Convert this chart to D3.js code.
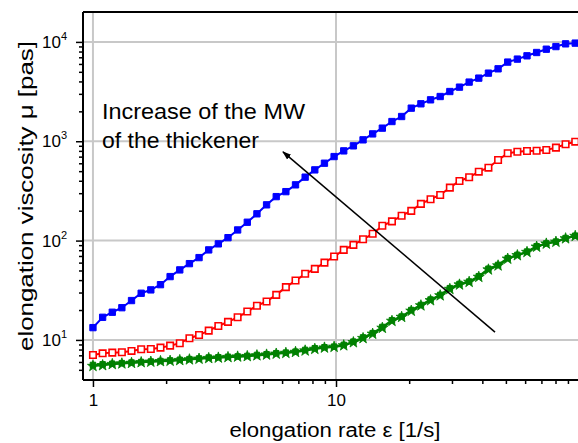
<!DOCTYPE html>
<html><head><meta charset="utf-8">
<script src="https://cdn.jsdelivr.net/npm/d3@7"></script>
<style>body{margin:0;background:#fff}svg{display:block}text{font-family:"Liberation Sans",Arial,sans-serif}</style>
</head><body>
<script>
const rate = [1.000,1.096,1.201,1.315,1.441,1.579,1.730,1.896,2.077,2.276,2.494,2.732,2.994,3.280,3.594,3.938,4.315,4.728,5.180,5.676,6.219,6.814,7.466,8.180,8.963,9.821,10.76,11.79,12.92,14.15,15.51,16.99,18.62,20.40,22.35,24.49,26.83,29.40,32.21,35.30,38.67,42.37,46.43,50.87,55.74,61.07,66.91,73.32,80.33,88.02,96.44];
const muHigh = [13.3,16.9,19.0,21.1,24.9,29.5,31.9,36.0,43.4,50.7,58.6,67.4,80.6,92.7,107,128,153,186,229,277,311,364,435,515,601,701,800,899,1033,1186,1355,1579,1774,2153,2382,2612,2820,3166,3505,3938,4319,4849,5359,6262,6711,7244,7823,8443,8973,9560,9720];
const muMid = [7.06,7.33,7.45,7.51,7.75,8.06,8.11,8.36,8.76,9.26,10.4,11.2,12.4,13.8,15.2,16.9,19.3,22.1,24.4,28.4,34.0,39.6,46.3,51.9,60.0,69.1,80.6,90.5,103,117,141,156,178,199,234,261,288,341,398,434,494,542,647,756,785,797,803,816,862,932,990];
const muLowSq = [5.60,5.68,5.76,5.84,5.92,5.99,6.06,6.13,6.22,6.31,6.41,6.51,6.65,6.69,6.77,6.82,6.90,7.06,7.18,7.35,7.45,7.62,7.93,8.25,8.44,8.56,8.91,9.61,10.6,11.7,13.5,15.8,17.2,20.0,22.5,25.5,28.4,33.2,36.6,38.7,43.8,52.1,56.9,66.5,71.8,77.5,87.8,93.7,97.7,106,112];
const muLowStar = [5.45,5.55,5.70,5.78,5.85,5.95,6.02,6.10,6.15,6.25,6.35,6.45,6.55,6.62,6.70,6.78,6.85,6.98,7.10,7.25,7.38,7.55,7.80,8.10,8.35,8.50,8.80,9.45,10.4,11.5,13.2,15.5,17.0,19.6,22.2,25.0,28.0,32.5,36.0,38.3,43.0,51.0,56.0,65.5,71.0,76.5,86.5,93.0,97.0,105,111];
const xMajor = [1, 10];
const xMinor = [2,3,4,5,6,7,8,9,20,30,40,50,60,70,80,90];
const yMajor = [10, 100, 1000, 10000];
const yExp = ["1","2","3","4"];
const yMinor = [5,6,7,8,9,20,30,40,50,60,70,80,90,200,300,400,500,600,700,800,900,2000,3000,4000,5000,6000,7000,8000,9000];
const annoLines = ["Increase of the MW", "of the thickener"];
const annoWidths = [203, 157];
const arrowFrom = [45.1, 12.0], arrowTo = [6.05, 782];

const W = 578, H = 443;
const L = 83, R = 578, T = 12, B = 380;
const svg = d3.select("body").append("svg").attr("width", W).attr("height", H);
const x = d3.scaleLog().domain([0.91, 99]).range([L, R]);
const y = d3.scaleLog().domain([3.95, 20000]).range([B, T]);

svg.append("defs").append("clipPath").attr("id","clip").append("rect")
  .attr("x", L).attr("y", T).attr("width", R - L).attr("height", B - T);

// gridlines
const grid = svg.append("g").attr("stroke", "#c8c8c8").attr("stroke-width", 2);
grid.selectAll("line.gx").data(xMajor).join("line")
  .attr("x1", d => x(d)).attr("x2", d => x(d)).attr("y1", T).attr("y2", B);
grid.selectAll("line.gy").data(yMajor).join("line")
  .attr("y1", d => y(d)).attr("y2", d => y(d)).attr("x1", L).attr("x2", R);

// axes
const xAxMaj = d3.axisBottom(x).tickValues(xMajor).tickSize(7).tickFormat(d3.format("d"));
const gx = svg.append("g").attr("transform", `translate(0,${B})`).call(xAxMaj);
gx.select(".domain").remove();
gx.selectAll("line").attr("stroke", "#000").attr("stroke-width", 1.5);
gx.selectAll("text").attr("font-size", 17).attr("fill", "#000").attr("dy", "0.95em");
const gxm = svg.append("g").attr("transform", `translate(0,${B})`)
  .call(d3.axisBottom(x).tickValues(xMinor).tickSize(4).tickFormat(""));
gxm.select(".domain").remove();
gxm.selectAll("line").attr("stroke", "#000").attr("stroke-width", 1.5);

const gy = svg.append("g").attr("transform", `translate(${L},0)`)
  .call(d3.axisLeft(y).tickValues(yMajor).tickSize(7).tickFormat(""));
gy.select(".domain").remove();
gy.selectAll("line").attr("stroke", "#000").attr("stroke-width", 1.5);
const gym = svg.append("g").attr("transform", `translate(${L},0)`)
  .call(d3.axisLeft(y).tickValues(yMinor).tickSize(4).tickFormat(""));
gym.select(".domain").remove();
gym.selectAll("line").attr("stroke", "#000").attr("stroke-width", 1.5);

const yl = svg.append("g").selectAll("text").data(yMajor).join("text")
  .attr("x", 67).attr("y", d => y(d) + 6).attr("text-anchor", "end").attr("font-size", 17);
yl.append("tspan").text("10");
yl.append("tspan").attr("font-size", 11).attr("dy", -8).text((d, i) => yExp[i]);

// frame
svg.append("line").attr("x1", L).attr("x2", L).attr("y1", T).attr("y2", B).attr("stroke", "#000").attr("stroke-width", 2);
svg.append("line").attr("x1", L).attr("x2", R).attr("y1", B).attr("y2", B).attr("stroke", "#000").attr("stroke-width", 2);
svg.append("line").attr("x1", L).attr("x2", R).attr("y1", T).attr("y2", T).attr("stroke", "#000").attr("stroke-width", 2);

// titles
svg.append("text").attr("x", 335).attr("y", 437).attr("text-anchor", "middle").attr("font-size", 20)
  .attr("textLength", 211).attr("lengthAdjust", "spacingAndGlyphs")
  .text("elongation rate \u03b5 [1/s]");
svg.append("text").attr("transform", "translate(33,196) rotate(-90)").attr("text-anchor", "middle").attr("font-size", 20)
  .attr("textLength", 310).attr("lengthAdjust", "spacingAndGlyphs")
  .text("elongation viscosity \u03bc [pas]");

// data
const plot = svg.append("g").attr("clip-path", "url(#clip)");
const line = d3.line().x(d => x(d[0])).y(d => y(d[1]));
function series(vals, color, sym, size, filled, sw) {
  const pts = rate.map((r, i) => [r, vals[i]]);
  plot.append("path").datum(pts).attr("d", line).attr("fill", "none").attr("stroke", color).attr("stroke-width", 2);
  plot.selectAll(null).data(pts).join("path")
    .attr("transform", d => `translate(${x(d[0])},${y(d[1])})`)
    .attr("d", d3.symbol().type(sym).size(size))
    .attr("fill", filled ? color : "#fff").attr("stroke", color).attr("stroke-width", sw);
}
series(muLowStar, "#008000", d3.symbolStar, 38, true, 0.8);
series(muLowSq, "#008000", d3.symbolSquare, 30, true, 1);
series(muMid, "#ff0000", d3.symbolSquare, 42, false, 1.6);
series(muHigh, "#0000ff", d3.symbolSquare, 40, true, 1);

// annotation
annoLines.forEach((t, i) => {
  svg.append("text").attr("x", 102).attr("y", 119 + i * 29).attr("font-size", 22)
    .attr("textLength", annoWidths[i]).attr("lengthAdjust", "spacingAndGlyphs").text(t);
});
svg.append("defs").append("marker").attr("id", "ah").attr("viewBox", "0 0 10 10").attr("refX", 9).attr("refY", 5)
  .attr("markerWidth", 6).attr("markerHeight", 6).attr("orient", "auto")
  .append("path").attr("d", "M0,1.5 L10,5 L0,8.5 Z").attr("fill", "#000");
svg.append("line").attr("x1", x(arrowFrom[0])).attr("y1", y(arrowFrom[1]))
  .attr("x2", x(arrowTo[0])).attr("y2", y(arrowTo[1]))
  .attr("stroke", "#000").attr("stroke-width", 1.5).attr("marker-end", "url(#ah)");
</script>
</body></html>
